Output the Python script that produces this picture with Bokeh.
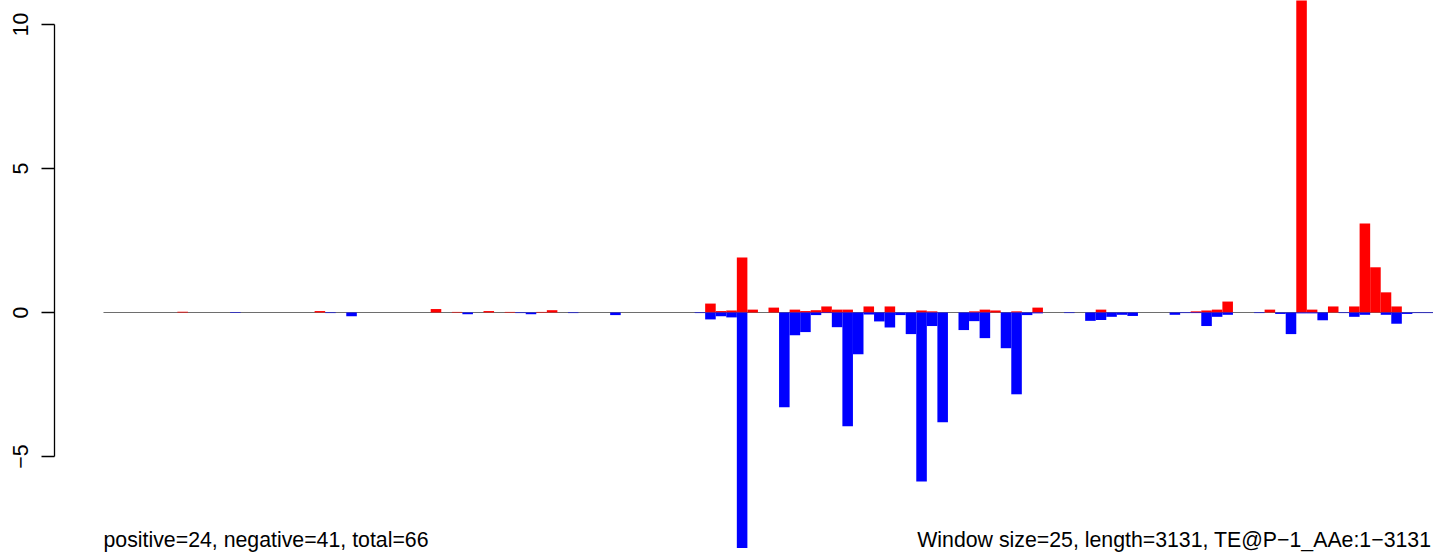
from bokeh.plotting import figure
from bokeh.models import Range1d, LinearAxis, FixedTicker, Label, ColumnDataSource
from bokeh.embed import file_html
from bokeh.resources import INLINE

# Window values (126 windows of 25 bp over a 3131 bp element)
positive = [
    0, 0, 0, 0, 0, 0, 0, 0.03, 0, 0,            # 0-9
    0, 0, 0, 0, 0, 0, 0, 0, 0, 0,               # 10-19
    0.05, 0, 0, 0, 0, 0, 0, 0, 0, 0,            # 20-29
    0, 0.12, 0, 0.02, 0, 0, 0.05, 0, 0.02, 0,   # 30-39
    0, 0.02, 0.08, 0, 0, 0, 0, 0, 0, 0,         # 40-49
    0, 0, 0, 0, 0, 0, 0, 0.31, 0.05, 0.07,      # 50-59
    1.91, 0.10, 0, 0.17, 0, 0.10, 0.05, 0.08, 0.21, 0.10,  # 60-69
    0.10, 0, 0.21, 0, 0.21, 0, 0, 0.07, 0.04, 0,           # 70-79
    0, 0, 0.04, 0.10, 0.07, 0, 0.04, 0, 0.17, 0,           # 80-89
    0, 0, 0, 0, 0.10, 0, 0, 0, 0, 0,                       # 90-99
    0, 0, 0, 0.04, 0.07, 0.10, 0.38, 0, 0, 0,              # 100-109
    0.10, 0, 0, 11.5, 0.10, 0, 0.21, 0, 0.21, 3.09,        # 110-119
    1.57, 0.70, 0.21, 0, 0, 0,                             # 120-125
]
negative = [
    0, 0, 0, 0, 0, 0, 0, 0, 0, 0,                          # 0-9
    0, 0, -0.02, 0, 0, 0, 0, 0, 0, 0,                      # 10-19
    0, -0.02, 0, -0.13, 0, 0, 0, 0, 0, 0,                  # 20-29
    0, 0, 0, 0, -0.06, 0, 0, 0, 0, -0.02,                  # 30-39
    -0.06, 0, 0, 0, -0.02, 0, 0, 0, -0.09, 0,              # 40-49
    0, 0, 0, 0, 0, 0, -0.02, -0.24, -0.13, -0.17,          # 50-59
    -8.18, 0, 0, 0, -3.29, -0.79, -0.68, -0.09, -0.02, -0.51,   # 60-69
    -3.95, -1.45, -0.07, -0.31, -0.52, -0.09, -0.75, -5.87, -0.47, -3.81,  # 70-79
    0, -0.61, -0.30, -0.89, 0, -1.24, -2.84, -0.09, -0.03, 0,   # 80-89
    0, -0.02, 0, -0.29, -0.26, -0.15, -0.08, -0.12, 0, 0,       # 90-99
    0, -0.08, -0.02, -0.02, -0.47, -0.15, -0.08, 0, 0, -0.02,   # 100-109
    0, -0.05, -0.75, -0.03, -0.03, -0.27, 0, -0.02, -0.15, -0.08,  # 110-119
    0, -0.08, -0.39, -0.05, -0.02, -0.02,                       # 120-125
]
y_ticks = [-5, 0, 5, 10]
y_tick_labels = {-5: "\u22125", 0: "0", 5: "5", 10: "10"}
left_text = "positive=24, negative=41, total=66"
right_text = "Window size=25, length=3131, TE@P\u22121_AAe:1\u22123131"

n = len(positive)
idx = list(range(n))
src = ColumnDataSource(dict(
    left=idx,
    right=[i + 1 for i in idx],
    pos=positive,
    neg=negative,
    zero=[0] * n,
))

p = figure(width=1433, height=552, output_backend="svg", toolbar_location=None,
           x_range=Range1d(-9.757, n), y_range=Range1d(-8.333, 10.833),
           x_axis_location=None, y_axis_location=None,
           min_border_left=0, min_border_right=0, min_border_top=0, min_border_bottom=0,
           outline_line_color=None, background_fill_color="white", border_fill_color="white")
p.grid.visible = False

# zero baseline
p.line(x=[0, n], y=[0, 0], line_color="#6e6e6e", line_width=1)

p.quad(left="left", right="right", bottom="zero", top="pos", source=src,
       fill_color="#FF0000", line_color=None)
p.quad(left="left", right="right", bottom="neg", top="zero", source=src,
       fill_color="#0000FF", line_color=None)

yaxis = LinearAxis(ticker=FixedTicker(ticks=y_ticks), bounds=(-5, 10),
                   fixed_location=-4.642,
                   major_tick_out=13, major_tick_in=0,
                   minor_tick_out=0, minor_tick_in=0,
                   major_label_orientation="vertical",
                   major_label_overrides=y_tick_labels,
                   major_label_text_font="Liberation Sans",
                   major_label_text_font_size="21.3px",
                   major_label_text_color="black",
                   major_label_standoff=13,
                   axis_line_color="black", axis_line_width=1.3,
                   major_tick_line_color="black", major_tick_line_width=1.3)
p.add_layout(yaxis, "left")

p.add_layout(Label(x=0, y=-7.9, text=left_text, text_font="Liberation Sans",
                   text_font_size="21.3px", text_color="black",
                   text_align="left", text_baseline="alphabetic"))
p.add_layout(Label(x=n - 0.2, y=-7.9, text=right_text, text_font="Liberation Sans",
                   text_font_size="21.3px", text_color="black",
                   text_align="right", text_baseline="alphabetic"))

open("out.html", "w").write(file_html(p, INLINE))
